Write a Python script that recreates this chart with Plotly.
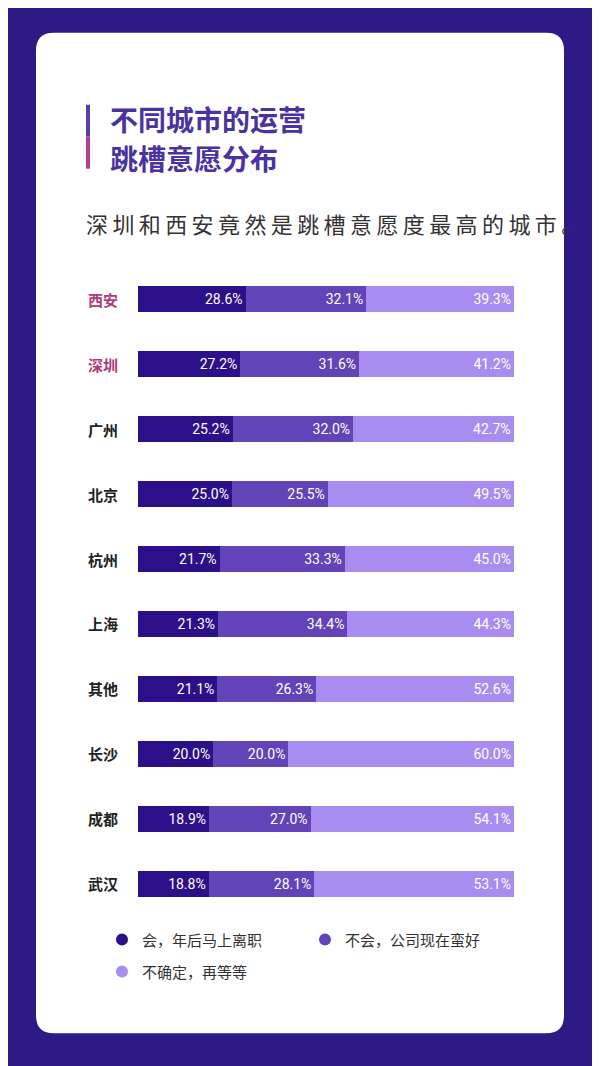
import plotly.graph_objects as go

cities = ["西安", "深圳", "广州", "北京", "杭州", "上海", "其他", "长沙", "成都", "武汉"]
leave = [28.6, 27.2, 25.2, 25.0, 21.7, 21.3, 21.1, 20.0, 18.9, 18.8]
stay = [32.1, 31.6, 32.0, 25.5, 33.3, 34.4, 26.3, 20.0, 27.0, 28.1]
unsure = [39.3, 41.2, 42.7, 49.5, 45.0, 44.3, 52.6, 60.0, 54.1, 53.1]
series_names = ["会，年后马上离职", "不会，公司现在蛮好", "不确定，再等等"]
colors = ["#2c1089", "#6343b8", "#a98cf0"]
highlight = ["西安", "深圳"]

W, H = 600, 1066
OFF = 8
L, R, T, B = 138 - OFF, 514 - OFF, 266.5 - OFF, 916.5 - OFF
def px(x): return (x - OFF - L) / (R - L)
def py(y): return (B - (y - OFF)) / (B - T)

fig = go.Figure()
for name, vals, c in zip(series_names, [leave, stay, unsure], colors):
    fig.add_trace(go.Bar(
        y=cities, x=vals, name=name, orientation="h", marker=dict(color=c, line_width=0),
        width=0.4, text=[f"{v:.1f}%" for v in vals], textposition="inside",
        insidetextanchor="end", textfont=dict(color="white", size=14, family="Roboto"),
        hoverinfo="skip"))

shapes = []
x0, x1, y0, y1, r = 36, 564, 32, 1034, 18
path = (f"M {px(x0+r)} {py(y0)} L {px(x1-r)} {py(y0)} Q {px(x1)} {py(y0)} {px(x1)} {py(y0+r)} "
        f"L {px(x1)} {py(y1-r)} Q {px(x1)} {py(y1)} {px(x1-r)} {py(y1)} L {px(x0+r)} {py(y1)} "
        f"Q {px(x0)} {py(y1)} {px(x0)} {py(y1-r)} L {px(x0)} {py(y0+r)} Q {px(x0)} {py(y0)} {px(x0+r)} {py(y0)} Z")
shapes.append(dict(type="path", path=path, xref="paper", yref="paper", fillcolor="white",
                   line_width=0, layer="below"))
shapes.append(dict(type="rect", xref="paper", yref="paper", x0=px(86), x1=px(90), y0=py(104), y1=py(136),
                   fillcolor="#5b3bb0", line_width=0))
shapes.append(dict(type="rect", xref="paper", yref="paper", x0=px(86), x1=px(90), y0=py(136), y1=py(168),
                   fillcolor="#b13f8e", line_width=0))
for (lx, ly), c in zip([(122, 940), (325, 940), (122, 972)], colors):
    shapes.append(dict(type="circle", xref="paper", yref="paper", x0=px(lx-6), x1=px(lx+6),
                       y0=py(ly+6), y1=py(ly-6), fillcolor=c, line_width=0))

ann = []
for i, line in enumerate(["不同城市的运营", "跳槽意愿分布"]):
    ann.append(dict(text=f"<b>{line}</b>", x=px(108), y=py(118 + 39 * i), xref="paper", yref="paper",
                    xanchor="left", yanchor="middle", showarrow=False,
                    font=dict(size=28, color="#4a33a0", family="Noto Sans CJK SC")))
ann.append(dict(text="深 圳 和 西 安 竟 然 是 跳 槽 意 愿 度 最 高 的 城 市 。".replace(" ", "\u2009"),
                x=px(84), y=py(222), xref="paper", yref="paper",
                xanchor="left", yanchor="middle", showarrow=False,
                font=dict(size=22, color="#333333", family="Noto Sans CJK SC")))
for c in cities:
    ann.append(dict(text=f"<b>{c}</b>", x=px(120), y=c, xref="paper", yref="y", xanchor="right",
                    showarrow=False, font=dict(size=15, color="#b03a7a" if c in highlight else "#222222",
                                               family="Noto Sans CJK SC")))
for (lx, ly), n in zip([(140, 940), (343, 940), (140, 972)], series_names):
    ann.append(dict(text=n, x=px(lx), y=py(ly), xref="paper", yref="paper", xanchor="left",
                    yanchor="middle", showarrow=False,
                    font=dict(size=15, color="#333333", family="Noto Sans CJK SC")))

fig.update_layout(
    width=W, height=H, barmode="stack", showlegend=False,
    margin=dict(l=L, r=W - R, t=T, b=H - B),
    paper_bgcolor="#2e1a85", plot_bgcolor="rgba(0,0,0,0)",
    xaxis=dict(range=[0, 100], visible=False, fixedrange=True),
    yaxis=dict(categoryorder="array", categoryarray=cities[::-1], range=[-0.5, 9.5],
               showticklabels=False, showgrid=False, zeroline=False),
    shapes=shapes, annotations=ann, uniformtext=dict(minsize=8),
)
fig.write_html("out.html")
